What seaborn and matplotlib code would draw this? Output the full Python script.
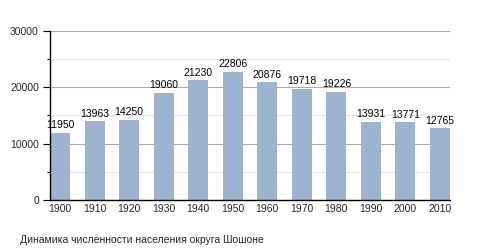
import matplotlib
matplotlib.use("Agg")
import matplotlib.pyplot as plt
import seaborn as sns
import pandas as pd
from matplotlib import font_manager
from matplotlib.ticker import MultipleLocator

years = ["1900", "1910", "1920", "1930", "1940", "1950", "1960", "1970", "1980", "1990", "2000", "2010"]
population = [11950, 13963, 14250, 19060, 21230, 22806, 20876, 19718, 19226, 13931, 13771, 12765]
caption = "Динамика численности населения округа Шошоне"

sns.set_theme(style="white")

fam = "DejaVu Sans"
for f in font_manager.fontManager.ttflist:
    if f.fname.endswith("LiberationSans-Regular.ttf"):
        font_manager.fontManager.addfont(f.fname)
        fam = f.name
        break
plt.rcParams['font.family'] = [fam, 'DejaVu Sans']

df = pd.DataFrame({"year": years, "pop": population})

fig = plt.figure(figsize=(4.8, 2.5), dpi=100)
ax = fig.add_axes([50/480, 1-200/250, 400/480, 169/250])

sns.barplot(data=df, x="year", y="pop", color="#9db4d0", saturation=1,
            width=0.58, ax=ax, zorder=3, edgecolor="none", linewidth=0)

ax.set_ylim(0, 30000)
ax.set_xlim(-0.29, 11.29)
ax.yaxis.set_major_locator(MultipleLocator(10000))
ax.yaxis.set_minor_locator(MultipleLocator(5000))
ax.grid(axis="y", which="major", color="#aaaaaa", linewidth=0.8, zorder=0)
ax.grid(axis="y", which="minor", color="#e4e4e4", linewidth=0.8, zorder=0)
ax.set_axisbelow(True)

for s in ["top", "right"]:
    ax.spines[s].set_visible(False)
for s in ["left", "bottom"]:
    ax.spines[s].set_visible(True)
    ax.spines[s].set_color("black")
    ax.spines[s].set_linewidth(1.0)
    ax.spines[s].set_zorder(5)

ax.tick_params(axis="y", which="major", left=True, length=5, width=0.8, color="black", labelsize=7.5, pad=3)
ax.tick_params(axis="y", which="minor", left=True, length=2, width=0.8, color="black")
ax.tick_params(axis="x", bottom=False, length=0, labelsize=7.5, pad=3)
ax.set_xlabel("")
ax.set_ylabel("")

for i, v in enumerate(population):
    ax.text(i, v + 450, str(v), ha="center", va="bottom", fontsize=7.5, color="black", zorder=6)

fig.text(20/480, 1-240/250, caption, fontsize=7.5, ha="left", va="center")

fig.savefig("out.png", dpi=100)
